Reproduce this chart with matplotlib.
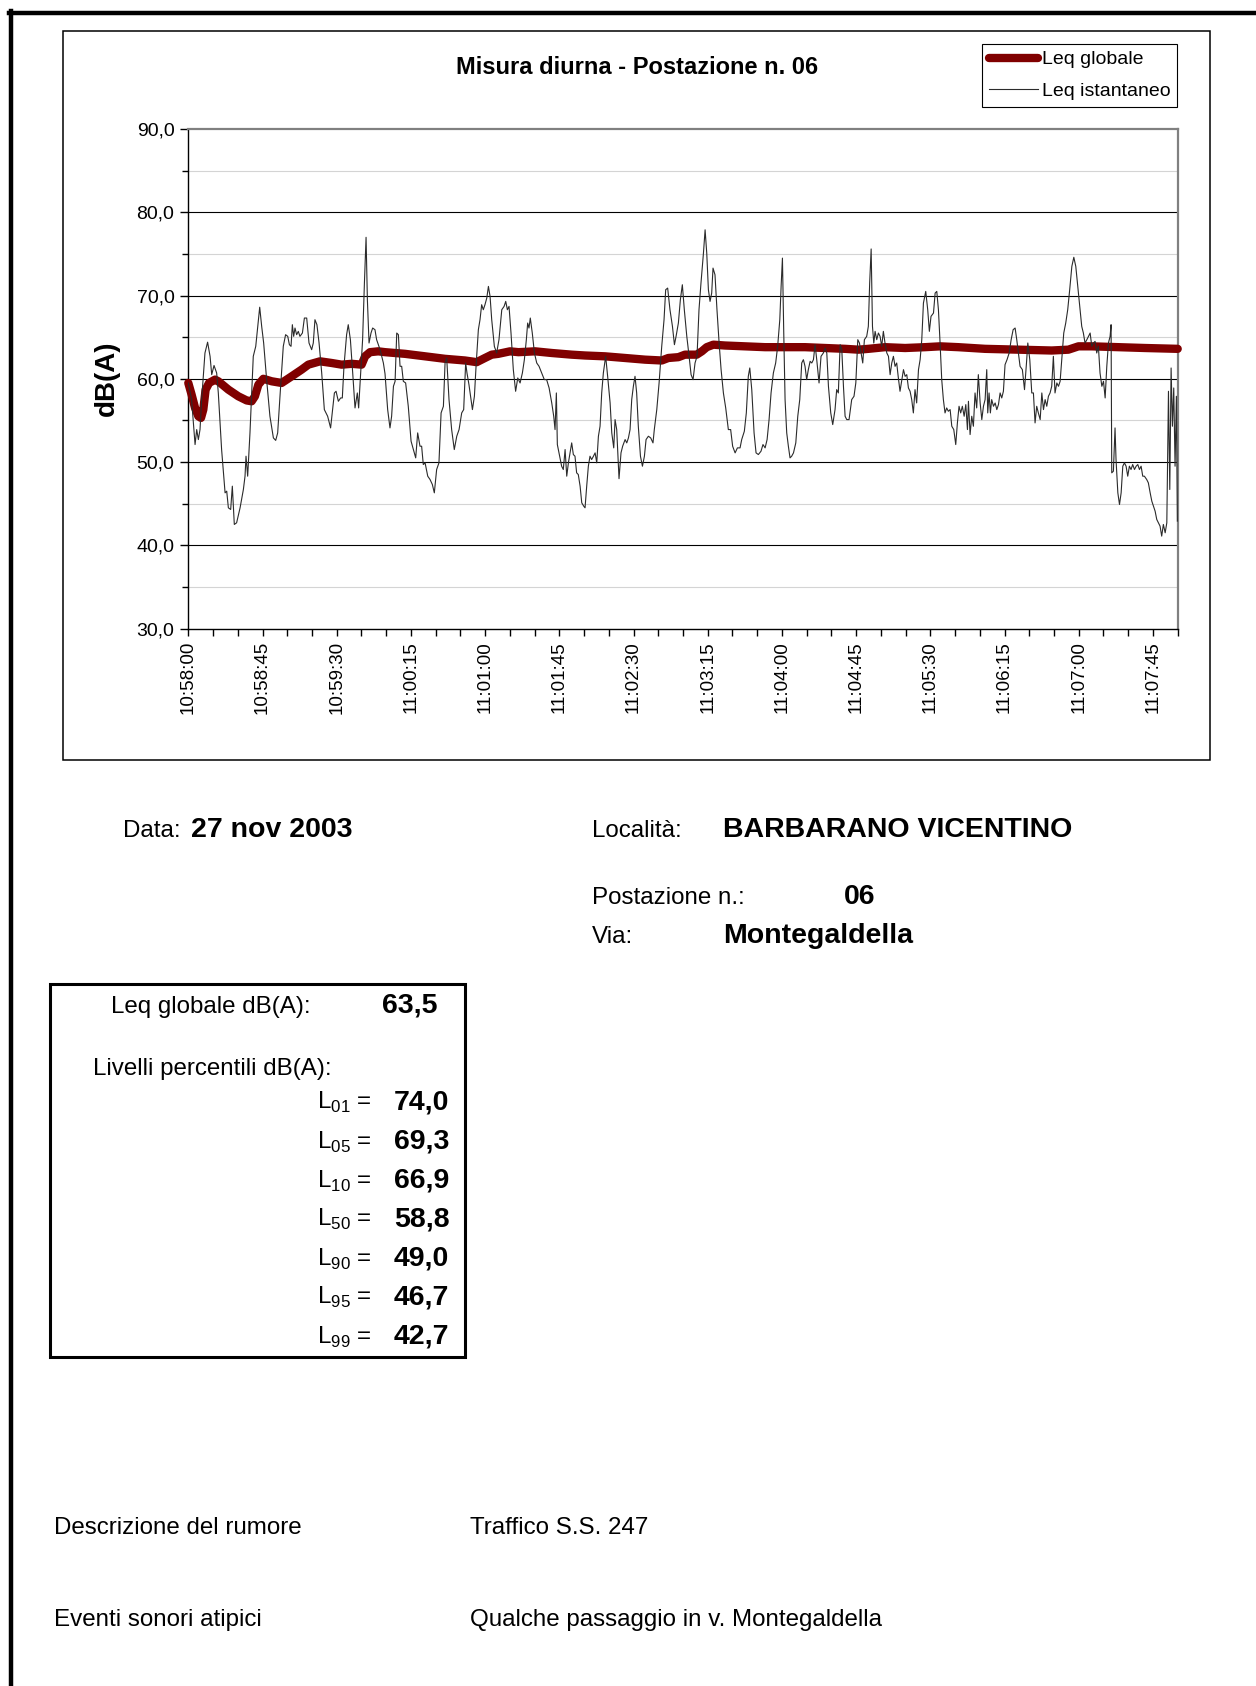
import matplotlib
matplotlib.use("Agg")
import matplotlib.pyplot as plt
from matplotlib.lines import Line2D
from matplotlib.patches import Rectangle
from matplotlib.ticker import MultipleLocator, FuncFormatter

plt.rcParams["font.family"] = ["Liberation Sans", "DejaVu Sans"]
plt.rcParams["mathtext.fontset"] = "custom"
plt.rcParams["mathtext.rm"] = "Liberation Sans"

# --- data (seconds from 10:58:00, dB(A)) ---
leq_ist = [
    (0.0, 59.5), (2.0, 57.5), (4.1, 52.1), (5.1, 53.9), (6.1, 52.7), (7.1, 53.9), (8.1, 57.5),
    (10.1, 63.1), (11.7, 64.4), (13.2, 62.7), (14.2, 60.5), (15.6, 61.6), (17.2, 60.7), (18.2, 58.3),
    (20.2, 51.5), (22.3, 46.3), (23.3, 46.5), (24.3, 44.5), (25.7, 44.3), (26.7, 47.1), (27.9, 42.5),
    (29.3, 42.7), (31.4, 44.5), (33.4, 46.7), (34.4, 48.3), (35.0, 50.7), (36.0, 48.3), (37.4, 53.5),
    (39.4, 62.7), (40.9, 63.9), (42.1, 66.3), (43.3, 68.6), (44.5, 66.3), (45.7, 64.3), (47.5, 59.9),
    (49.5, 55.5), (51.6, 52.9), (53.0, 52.6), (54.2, 53.5), (55.6, 57.9), (57.6, 63.9), (59.0, 65.3),
    (60.3, 65.1), (61.3, 64.1), (62.3, 63.9), (63.1, 66.5), (63.9, 65.1), (64.7, 66.1), (65.7, 65.3),
    (66.7, 65.7), (67.7, 65.1), (69.2, 65.5), (70.4, 67.3), (71.8, 67.3), (73.2, 64.3), (74.8, 63.5),
    (75.8, 64.3), (76.8, 67.1), (78.0, 66.5), (79.3, 64.3), (80.9, 60.7), (82.5, 56.3), (84.5, 55.5),
    (86.3, 54.1), (87.5, 56.3), (88.6, 58.3), (89.6, 58.5), (91.0, 57.3), (92.4, 57.7), (93.4, 57.7),
    (94.4, 61.5), (96.0, 65.3), (97.0, 66.5), (98.3, 64.7), (99.7, 60.7), (101.1, 56.5), (102.5, 58.3),
    (103.3, 56.5), (104.5, 60.7), (105.7, 64.7), (106.8, 71.5), (107.8, 77.0), (108.6, 69.5),
    (109.6, 64.3), (110.8, 65.5), (111.8, 66.1), (113.2, 65.9), (114.2, 64.7), (116.3, 63.5),
    (118.3, 61.9), (119.3, 60.6),
    (120.9, 56.3), (122.3, 54.1), (123.3, 55.5), (124.4, 59.1), (125.4, 59.7), (126.4, 65.5),
    (127.4, 65.3), (128.4, 61.5), (129.4, 61.5), (130.4, 59.7), (131.8, 59.5), (133.4, 56.7),
    (135.1, 52.5), (136.5, 51.5), (137.9, 50.5), (139.1, 53.5), (140.5, 51.9), (141.5, 51.9),
    (142.5, 49.7), (143.6, 49.9), (145.2, 48.3), (146.6, 47.9), (148.0, 47.3), (149.2, 46.3),
    (150.6, 49.1), (152.0, 49.9), (153.3, 55.9), (154.7, 56.7), (155.7, 61.9), (156.7, 62.5),
    (158.1, 57.5), (159.7, 53.9), (161.3, 51.5), (162.8, 53.1), (164.2, 53.9), (165.8, 55.9),
    (167.0, 56.3), (168.2, 61.9), (169.0, 60.7), (170.2, 59.3), (172.3, 56.3), (173.5, 57.9),
    (174.5, 61.5), (175.9, 65.9), (176.9, 67.1), (177.9, 68.9), (178.9, 68.3), (179.9, 68.9),
    (181.0, 69.7), (182.0, 71.1), (183.0, 69.9), (184.0, 67.1), (185.6, 63.9), (187.0, 63.1),
    (188.4, 64.7), (190.1, 68.3), (191.5, 68.7), (192.5, 69.3), (193.5, 68.3), (194.5, 68.7),
    (195.7, 65.5), (197.1, 61.1), (198.5, 58.5), (199.8, 60.1), (201.2, 59.5), (202.6, 60.7),
    (203.8, 62.3), (205.0, 64.7), (205.8, 66.7), (206.6, 66.1), (207.4, 67.3), (208.6, 65.5),
    (209.9, 63.1), (211.3, 61.9), (212.7, 61.5), (214.3, 60.7), (215.9, 59.9), (217.3, 59.9),
    (218.8, 58.9), (220.4, 57.1), (221.6, 55.5), (222.4, 53.9), (223.2, 58.3), (223.8, 52.1),
    (225.0, 50.9), (226.4, 49.5), (227.4, 49.1), (228.5, 51.5), (229.5, 48.3), (230.5, 49.9),
    (231.5, 51.1), (232.5, 52.3), (233.5, 50.9), (234.5, 50.7), (235.5, 48.7), (236.5, 48.5),
    (237.6, 47.1), (238.6, 45.1), (239.8, 44.7),
    (240.6, 44.5), (241.6, 47.1), (242.6, 49.5), (243.6, 50.7), (244.6, 50.3), (245.7, 50.7),
    (246.7, 51.1), (247.7, 49.9), (248.7, 53.1), (249.7, 54.3), (250.7, 58.3), (251.7, 60.7),
    (253.1, 62.7), (254.3, 60.3), (255.8, 57.1), (256.8, 53.5), (258.0, 51.7), (258.8, 55.1),
    (259.8, 53.9), (261.2, 48.0), (262.4, 51.1), (263.4, 51.9), (264.9, 52.7), (265.9, 52.3),
    (266.9, 52.9), (267.9, 53.9), (268.9, 57.5), (269.9, 59.1), (270.9, 60.3), (271.9, 58.3),
    (272.9, 54.3), (274.2, 50.7), (275.4, 49.5), (276.6, 50.7), (277.6, 52.7), (279.0, 53.1),
    (280.4, 52.9), (281.8, 52.3), (282.6, 53.9), (284.1, 56.3), (285.5, 59.5), (287.1, 63.9),
    (288.5, 67.1), (289.5, 70.7), (290.7, 70.9), (292.1, 68.3), (293.6, 66.3), (294.8, 64.1),
    (295.8, 65.1), (297.2, 66.7), (298.4, 69.5), (299.6, 71.3), (300.8, 68.3), (302.3, 65.1),
    (303.7, 62.7), (304.9, 60.5), (306.1, 59.9), (307.3, 61.9), (308.5, 62.7), (309.7, 68.3),
    (310.9, 71.5), (312.4, 75.1), (313.4, 77.9), (314.4, 75.1), (315.4, 70.7), (316.4, 69.3),
    (317.4, 70.3), (318.2, 73.3), (319.4, 72.5), (320.6, 68.3), (321.9, 64.3), (323.1, 61.1),
    (324.5, 58.3), (325.9, 56.5), (327.5, 53.9), (328.9, 53.9), (330.1, 51.9), (331.6, 51.1),
    (333.0, 51.7), (334.6, 51.7), (335.6, 52.7), (337.2, 53.7), (338.4, 55.9), (339.6, 60.3),
    (340.5, 61.3), (341.7, 58.7), (343.1, 53.5), (344.3, 51.1), (345.7, 50.9), (347.3, 51.3),
    (348.5, 52.1), (349.8, 51.7), (351.0, 52.7), (352.2, 55.1), (353.4, 58.3), (354.8, 60.7),
    (356.2, 61.9), (357.4, 63.9), (358.7, 67.1), (359.5, 71.1), (360.3, 74.5), (361.1, 65.5),
    (361.9, 57.5),
    (362.9, 53.5), (363.9, 51.9), (364.9, 50.5), (365.9, 50.7), (367.0, 51.1), (368.4, 52.3),
    (369.6, 55.5), (370.8, 57.5), (372.0, 61.9), (373.0, 62.3), (374.0, 61.5), (375.0, 59.9),
    (376.0, 61.1), (377.1, 62.1), (378.1, 61.9), (379.1, 62.3), (380.1, 64.1), (381.1, 62.3),
    (382.5, 59.5), (383.7, 62.7), (385.1, 63.1), (386.2, 63.7), (387.2, 63.1), (388.2, 59.1),
    (389.6, 55.9), (390.8, 54.5), (392.2, 56.3), (393.2, 58.7), (394.2, 58.3), (395.3, 64.1),
    (396.3, 63.5), (397.3, 59.1), (398.3, 55.5), (399.3, 55.1), (400.7, 55.1), (402.3, 57.5),
    (403.7, 57.9), (404.8, 59.5), (406.0, 64.7), (407.0, 64.3), (408.0, 63.1), (409.0, 61.9),
    (410.0, 64.7), (411.4, 65.1), (412.4, 66.3), (413.2, 71.5), (414.1, 75.6), (414.9, 66.3),
    (415.7, 64.3), (416.5, 65.7), (417.5, 64.7), (418.5, 65.5), (419.5, 65.1), (420.5, 63.9),
    (421.5, 65.7), (422.5, 64.3), (423.6, 63.1), (424.6, 62.7), (425.6, 60.5), (426.6, 61.9),
    (427.6, 62.7), (428.6, 61.5), (429.6, 61.9), (430.6, 60.1), (431.6, 58.5), (432.7, 59.9),
    (433.7, 61.1), (434.7, 60.3), (435.7, 60.5), (436.7, 58.9), (437.7, 58.5), (438.7, 57.5),
    (439.7, 55.9), (440.7, 58.7), (441.7, 57.1), (442.8, 61.1), (443.8, 62.3), (444.8, 64.7),
    (445.8, 69.1), (447.2, 70.5), (448.4, 68.3), (449.4, 65.7), (450.4, 67.5), (451.9, 67.9),
    (452.9, 70.3), (453.9, 70.5), (454.9, 68.3), (455.9, 64.3), (456.9, 59.9), (457.9, 57.5),
    (458.9, 55.9), (459.9, 56.5), (460.9, 56.1), (462.0, 56.3), (463.0, 54.3), (464.2, 53.9),
    (465.4, 52.1), (466.4, 54.7), (467.4, 56.7), (468.4, 55.9), (469.4, 56.7), (470.5, 55.5),
    (471.5, 56.9), (472.5, 53.9), (473.1, 57.3), (474.1, 53.3), (475.1, 55.5), (476.1, 54.3),
    (477.1, 58.3), (478.1, 56.5), (479.1, 60.5), (480.2, 57.1), (481.2, 55.1), (482.2, 56.7),
    (483.2, 57.5), (484.2, 61.1), (484.8, 55.9), (485.6, 58.3), (486.4, 55.9), (487.2, 57.5),
    (488.3, 56.7), (489.3, 57.1), (490.3, 56.3), (491.3, 56.9), (492.3, 58.3), (493.3, 57.7),
    (494.3, 58.5), (495.3, 61.7), (496.5, 62.3), (497.8, 63.1), (499.0, 64.7), (500.2, 65.9),
    (501.4, 66.1), (502.4, 64.7), (503.4, 63.1), (504.4, 61.5), (505.8, 61.1), (507.1, 58.7),
    (508.3, 61.9), (509.1, 64.3), (510.3, 62.3), (511.5, 58.3), (512.5, 58.3), (513.5, 54.7),
    (514.5, 56.7), (515.5, 55.9), (516.6, 55.1), (517.6, 58.3), (518.6, 56.3), (519.6, 57.5),
    (520.6, 56.7), (521.6, 57.9), (522.6, 58.3), (523.6, 59.1), (524.6, 62.7), (525.6, 58.3),
    (526.7, 59.5), (527.7, 59.1), (528.7, 59.7), (529.7, 62.3), (530.9, 65.5), (532.1, 66.7),
    (533.3, 68.3), (534.5, 70.7), (535.8, 73.5), (537.0, 74.6), (538.2, 73.5), (539.4, 71.1),
    (540.8, 68.3), (541.8, 66.3), (542.8, 65.5), (543.8, 64.3), (544.9, 64.7), (545.9, 65.1),
    (546.9, 65.5), (547.9, 63.9), (548.9, 64.3), (549.9, 64.5), (550.9, 63.1), (551.9, 63.9),
    (552.9, 60.7), (554.0, 59.1), (555.0, 59.7), (556.0, 57.7), (557.0, 61.5), (558.0, 64.3),
    (559.0, 65.1), (559.6, 66.5), (560.0, 48.7), (561.0, 48.9), (562.0, 54.1), (562.6, 50.3),
    (563.7, 46.3), (564.7, 44.9), (565.7, 46.3), (566.7, 49.5), (567.7, 49.9), (568.7, 49.5),
    (569.7, 48.3), (570.7, 49.5), (571.7, 49.1), (572.7, 49.7), (573.8, 49.1), (574.8, 49.5),
    (575.8, 49.7), (576.8, 49.1), (577.8, 49.5), (578.8, 48.3), (579.8, 48.3), (581.2, 47.9),
    (582.2, 47.5), (583.3, 46.3), (584.3, 45.3), (585.3, 44.7), (586.3, 44.1), (587.3, 43.1),
    (588.3, 42.7), (589.3, 42.3), (590.3, 41.1), (591.3, 42.5), (592.4, 41.5), (593.4, 42.7),
    (594.4, 58.5), (595.2, 46.7), (596.0, 61.3), (596.8, 54.3), (597.6, 58.9), (598.4, 49.5),
    (599.2, 57.9), (599.8, 42.9),
]

leq_glob = [
    (0.0, 59.5), (2.0, 58.1), (4.1, 56.5), (6.1, 55.5), (7.7, 55.3), (9.1, 56.3), (10.5, 58.7),
    (12.6, 59.5), (16.2, 59.9), (18.2, 59.7), (24.3, 58.7), (30.3, 57.9), (35.4, 57.4), (38.4, 57.3),
    (40.4, 57.9), (42.5, 59.3), (45.5, 60.0), (50.6, 59.7), (56.6, 59.5), (62.7, 60.3), (68.7, 61.1),
    (72.8, 61.7), (79.9, 62.1), (86.9, 61.9), (93.0, 61.7), (99.1, 61.8), (105.1, 61.7),
    (107.2, 62.7), (110.2, 63.2), (115.2, 63.3), (119.3, 63.2), (131.4, 63.0), (143.6, 62.7),
    (155.7, 62.4), (167.8, 62.2), (174.9, 62.0), (179.9, 62.5), (184.0, 62.9), (188.0, 63.0),
    (195.1, 63.3), (200.2, 63.2), (210.3, 63.3), (220.4, 63.1), (232.5, 62.9), (240.6, 62.8),
    (252.7, 62.7), (264.9, 62.5), (277.0, 62.3), (287.1, 62.2), (291.1, 62.5), (297.2, 62.6),
    (301.2, 62.9), (308.3, 62.9), (311.4, 63.3), (314.4, 63.8), (318.4, 64.1), (325.5, 64.0),
    (337.6, 63.9), (349.8, 63.8), (361.9, 63.8), (374.0, 63.8), (386.2, 63.7), (398.3, 63.6),
    (406.4, 63.5), (412.4, 63.6), (422.5, 63.8), (434.7, 63.7), (446.8, 63.8), (455.9, 63.9),
    (467.0, 63.8), (483.2, 63.6), (503.4, 63.5), (523.6, 63.4), (533.7, 63.5), (539.8, 63.9),
    (547.9, 63.9), (564.1, 63.8), (580.2, 63.7), (600.0, 63.6),
]

start_h, start_m = 10, 58
leq_globale = "63,5"
perc_names = ["01", "05", "10", "50", "90", "95", "99"]
perc_values = [74.0, 69.3, 66.9, 58.8, 49.0, 46.7, 42.7]

# --- page geometry (pixels of the 1256x1686 sheet) ---
W, H = 1256, 1686
fig = plt.figure(figsize=(W / 100, H / 100), dpi=100)


def fx(px):
    return px / W


def fy(py):
    return 1 - py / H


# page frame (top + left edge) and chart frame
fig.add_artist(Line2D([fx(11), fx(11)], [0, fy(11)], color="black", lw=3.2))
fig.add_artist(Line2D([fx(9), 1], [fy(13), fy(13)], color="black", lw=3.2))
fig.add_artist(Rectangle((fx(63), fy(760)), fx(1210) - fx(63), (760 - 31) / H,
                         transform=fig.transFigure, fill=False, ec="black", lw=1.1))

ax = fig.add_axes([fx(188.3), fy(628.5), fx(1177.7) - fx(188.3), (628.5 - 129.1) / H])

gt, gv = zip(*leq_glob)
it, iv = zip(*leq_ist)
ax.plot(gt, gv, color="#800000", lw=6, solid_capstyle="round", clip_on=False,
        zorder=3, label="Leq globale")
ax.plot(it, iv, color="#2b2b2b", lw=0.8, zorder=4, label="Leq istantaneo")

ax.set_xlim(0, 600)
ax.set_ylim(30, 90)
for v in range(40, 90, 10):
    ax.axhline(v, color="black", lw=0.8, zorder=1)
for v in range(35, 90, 10):
    ax.axhline(v, color="#d4d4d4", lw=0.8, zorder=1)

ax.yaxis.set_major_locator(MultipleLocator(10))
ax.yaxis.set_minor_locator(MultipleLocator(5))
ax.yaxis.set_major_formatter(FuncFormatter(lambda v, p: f"{v:.1f}".replace(".", ",")))


def hms(s, pos=None):
    tot = start_h * 3600 + start_m * 60 + int(round(s))
    return f"{tot // 3600}:{tot % 3600 // 60:02d}:{tot % 60:02d}"


ax.xaxis.set_major_locator(MultipleLocator(45))
ax.xaxis.set_minor_locator(MultipleLocator(15))
ax.xaxis.set_major_formatter(FuncFormatter(hms))

ax.tick_params(axis="x", which="both", direction="out", length=5, width=1, color="black")
ax.tick_params(axis="x", which="major", labelsize=13.5, labelrotation=90, pad=4)
ax.tick_params(axis="y", which="major", direction="out", length=6, width=1, labelsize=14, pad=4)
ax.tick_params(axis="y", which="minor", direction="out", length=4, width=1)

for side in ("left", "bottom"):
    ax.spines[side].set_color("black")
    ax.spines[side].set_linewidth(1)
for side in ("top", "right"):
    ax.spines[side].set_color("#808080")
    ax.spines[side].set_linewidth(1.6)

leg = ax.legend(loc="upper right", bbox_to_anchor=(fx(1177), fy(44)),
                bbox_transform=fig.transFigure, fontsize=14, frameon=True,
                fancybox=False, edgecolor="black", framealpha=1,
                handlelength=2.5, handletextpad=0.2, borderpad=0.35,
                labelspacing=0.72, borderaxespad=0)
leg.get_frame().set_linewidth(0.8)

fig.text(fx(636.6), fy(67), "Misura diurna - Postazione n. 06", ha="center", va="center",
         fontsize=17, fontweight="bold")
fig.text(fx(107), fy(378), "dB(A)", rotation=90, ha="center", va="center",
         fontsize=20, fontweight="bold")

# --- info under the chart ---
lab = dict(fontsize=17.4, va="baseline")
val = dict(fontsize=20.5, fontweight="bold", va="baseline")
fig.text(fx(123), fy(837), "Data:", **lab)
fig.text(fx(191), fy(837), "27 nov 2003", **val)
fig.text(fx(592), fy(837), "Località:", **lab)
fig.text(fx(723), fy(837), "BARBARANO VICENTINO", **val)
fig.text(fx(592), fy(904), "Postazione n.:", **lab)
fig.text(fx(860), fy(904), "06", ha="center", **val)
fig.text(fx(592), fy(943), "Via:", **lab)
fig.text(fx(723), fy(943), "Montegaldella", **val)

fig.add_artist(Rectangle((fx(50), fy(1356.5)), fx(465) - fx(50), (1356.5 - 983.5) / H,
                         transform=fig.transFigure, fill=False, ec="black", lw=2.2))
fig.text(fx(111), fy(1012.7), "Leq globale dB(A):", **lab)
fig.text(fx(437.3), fy(1012.7), leq_globale, ha="right", **val)
fig.text(fx(93.3), fy(1075), "Livelli percentili dB(A):", **lab)
for i, (n, v) in enumerate(zip(perc_names, perc_values)):
    yb = 1109.3 + i * 39
    fig.text(fx(371.7), fy(yb), r"L$_{\mathrm{" + n + r"}}$ =", ha="right", **lab)
    fig.text(fx(449.3), fy(yb), f"{v:.1f}".replace(".", ","), ha="right", **val)

fig.text(fx(54), fy(1534), "Descrizione del rumore", **lab)
fig.text(fx(470), fy(1534), "Traffico S.S. 247", **lab)
fig.text(fx(54), fy(1626), "Eventi sonori atipici", **lab)
fig.text(fx(470), fy(1626), "Qualche passaggio in v. Montegaldella", **lab)

fig.savefig("out.png", dpi=100)
